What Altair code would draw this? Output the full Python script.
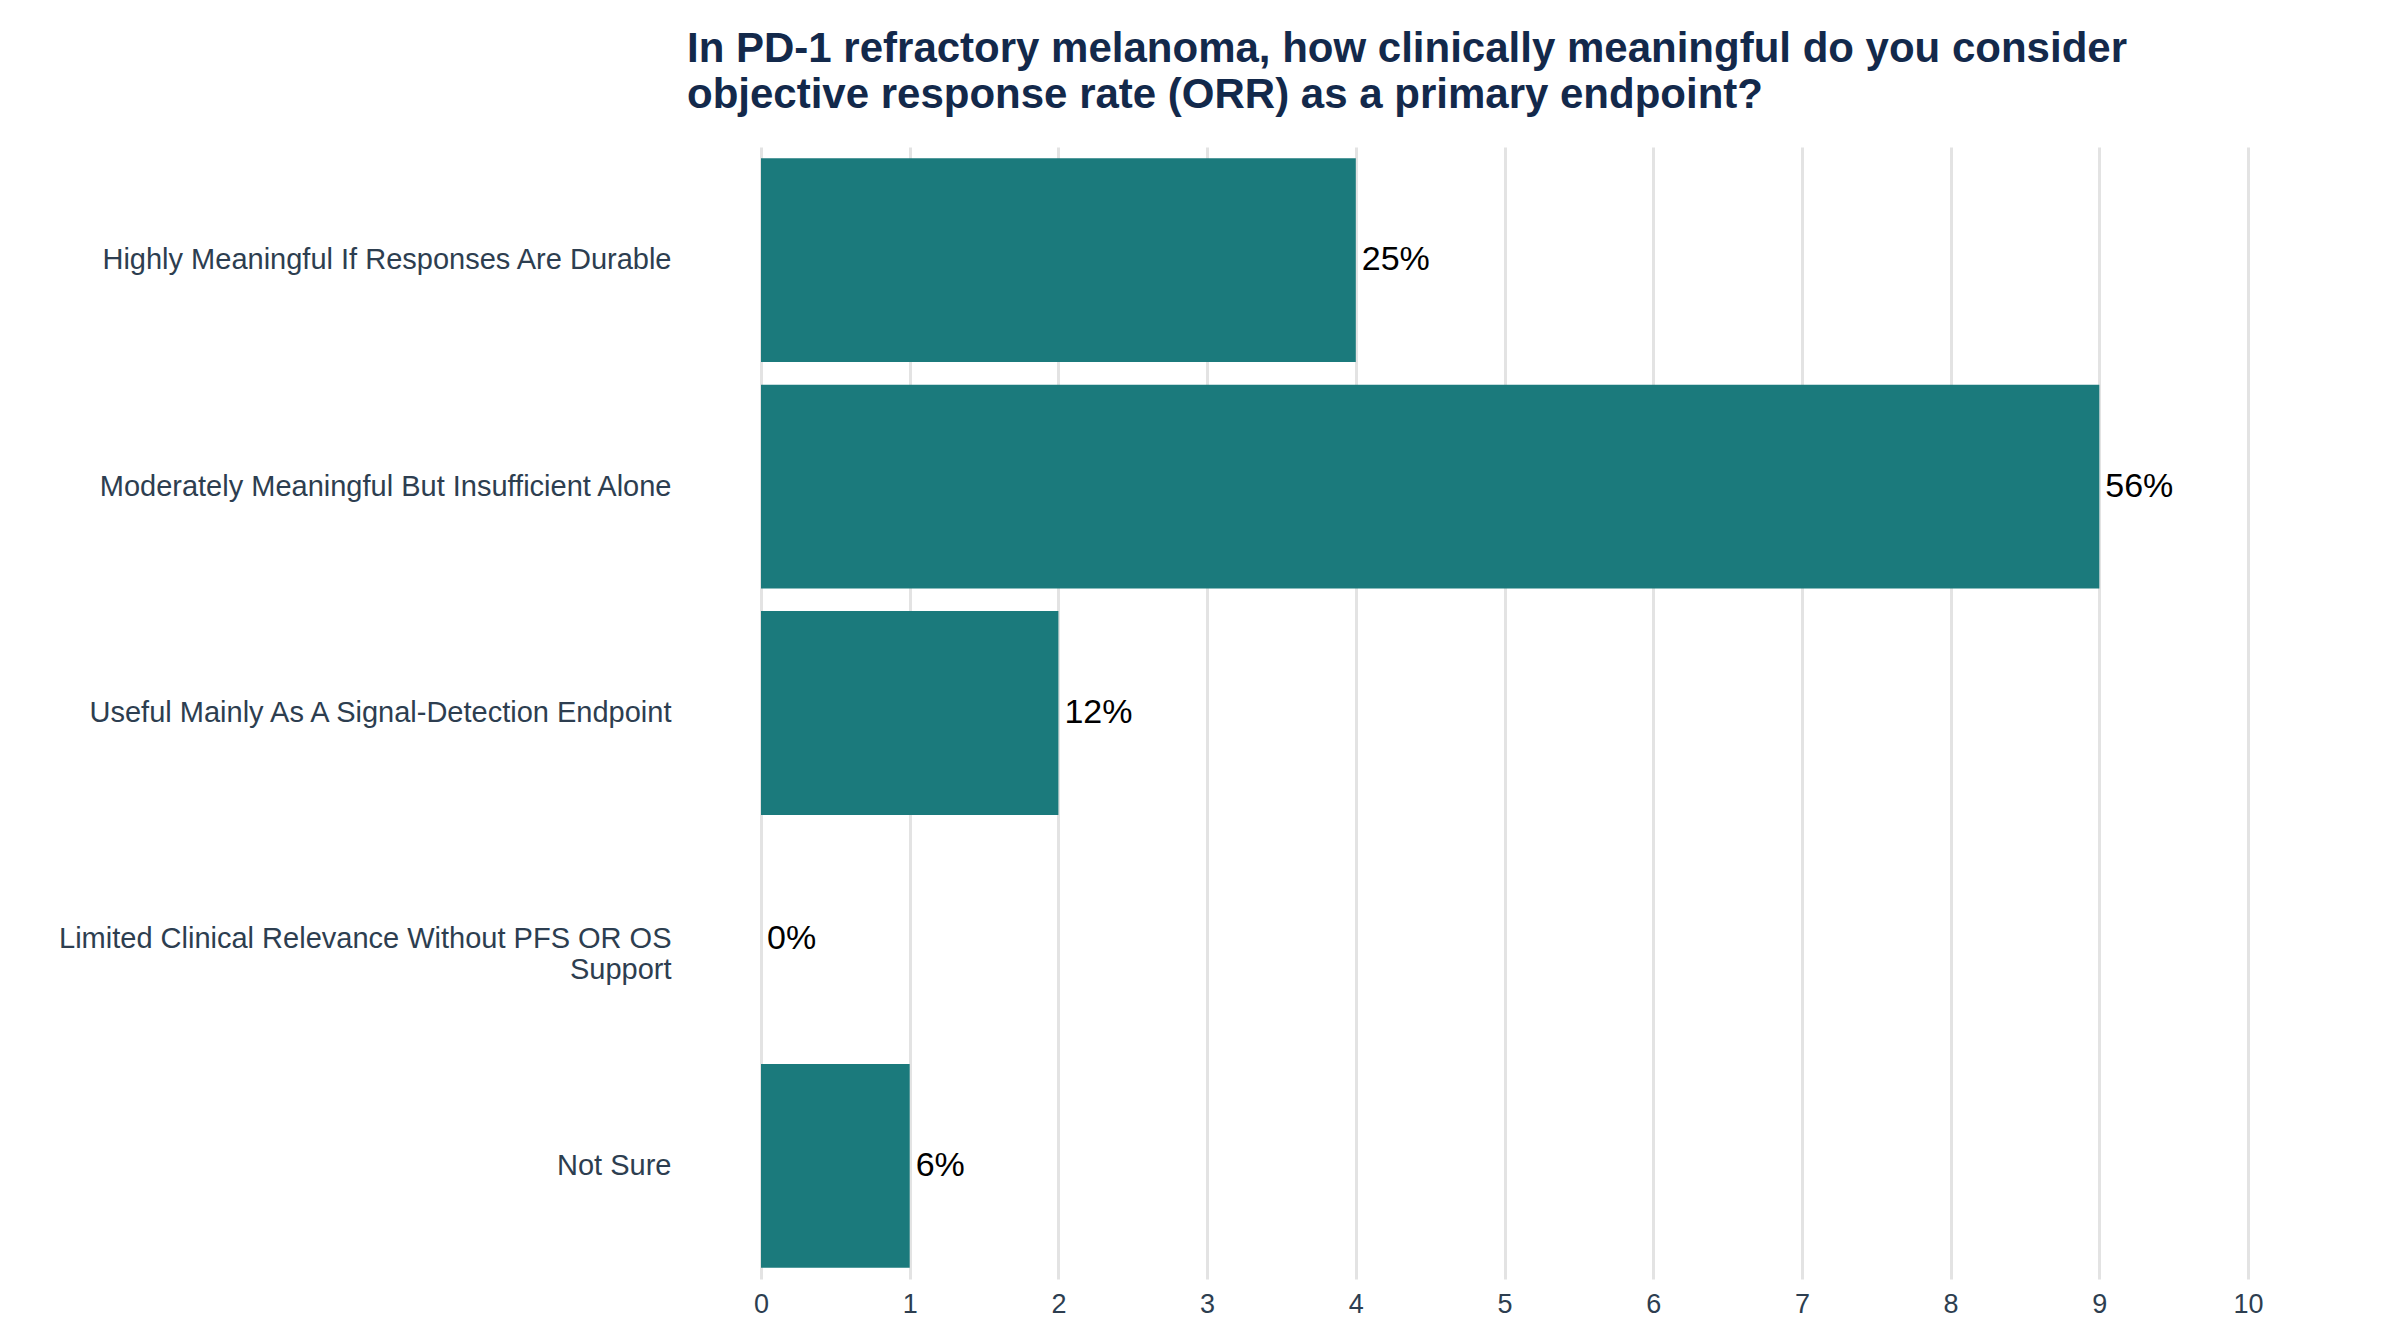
import altair as alt
import pandas as pd

categories = [
    "Highly Meaningful If Responses Are Durable",
    "Moderately Meaningful But Insufficient Alone",
    "Useful Mainly As A Signal-Detection Endpoint",
    "Limited Clinical Relevance Without PFS OR OS Support",
    "Not Sure",
]
counts = [4, 9, 2, 0, 1]
pct_labels = ["25%", "56%", "12%", "0%", "6%"]

df = pd.DataFrame({"cat": categories, "n": counts, "pct": pct_labels})

long_cat = "Limited Clinical Relevance Without PFS OR OS Support"
label_expr = (
    f"datum.label == '{long_cat}' ? "
    "['Limited Clinical Relevance Without PFS OR OS', 'Support'] : datum.label"
)

y = alt.Y("cat:N", sort=categories, title=None,
          scale=alt.Scale(paddingInner=0.1, paddingOuter=0.05),
          axis=alt.Axis(labelExpr=label_expr, labelFontSize=29, labelColor="#2d3e50",
                        labelFont="Liberation Sans", labelPadding=90, labelLimit=1000,
                        ticks=False, domain=False, grid=False))

bars = alt.Chart(df).mark_bar(color="#1b7a7c").encode(
    x=alt.X("n:Q", title=None, scale=alt.Scale(domain=[0, 10]),
            axis=alt.Axis(values=list(range(11)), format="d", labelAlign="center",
                          labelFontSize=27, labelColor="#2d3e50",
                          labelFont="Liberation Sans", ticks=False, domain=False,
                          grid=True, gridColor="#e3e3e3", gridWidth=3, labelPadding=12)),
    y=y,
)

text = alt.Chart(df).mark_text(align="left", dx=6, fontSize=34, color="black",
                               font="Liberation Sans").encode(
    x="n:Q", y=alt.Y("cat:N", sort=categories), text="pct:N")

chart = (bars + text).properties(
    width=1487, height=1132,
    title=alt.TitleParams(
        ["In PD-1 refractory melanoma, how clinically meaningful do you consider",
         "objective response rate (ORR) as a primary endpoint?"],
        anchor="start", frame="group", dx=-74, fontSize=42, font="Liberation Sans",
        fontWeight="bold", color="#13294b", offset=30, lineHeight=46),
    padding={"left": 50, "top": 20, "right": 100, "bottom": 10},
).configure_view(stroke=None)

chart.save("out.html", embed_options={"renderer": "svg", "actions": False})
